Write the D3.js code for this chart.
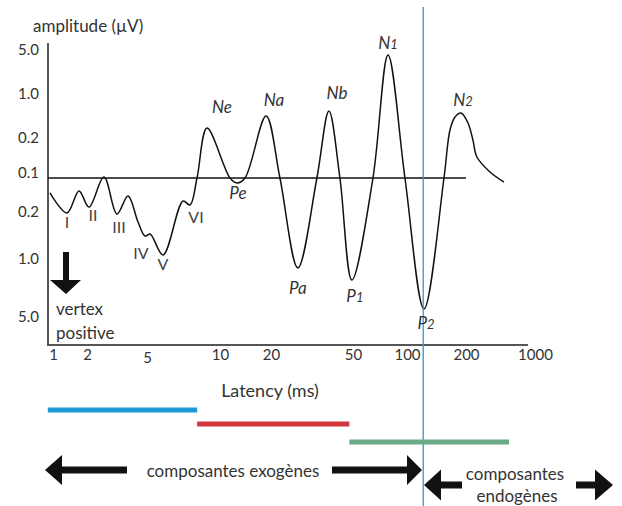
<!DOCTYPE html>
<html><head><meta charset="utf-8">
<script src="https://cdn.jsdelivr.net/npm/d3@7"></script>
<style>body{margin:0;background:#fff}svg{display:block;font-family:Lato,"Open Sans",sans-serif}</style>
</head><body><svg id="c" width="622" height="506"></svg>
<script>
// ---- data ----
const latency = [0.94,1.33,1.70,2.06,2.59,3.16,3.74,4.36,4.85,5.15,5.82,7.04,7.52,8.04,8.84,11.46,12.6,14.05,18.7,22.1,27.0,33.4,38.2,43.2,49.4,64.6,78.4,97.4,122.1,154.4,165.7,175.8,188.6,209.6,235,258,350,485];
const amplitude = [-0.088,-0.217,-0.076,-0.171,0.005,-0.234,-0.106,-0.370,-0.609,-0.574,-0.932,-0.135,-0.159,0,0.382,0,-0.029,0,0.6,0,-1.62,0,0.691,0,-2.45,0,4.55,0,-4.45,0,0.345,0.582,0.655,0.473,0.19,0.105,0.03,-0.024];
const xTicks = [1,2,5,10,20,50,100,200,1000];
const xTickLabels = ["1","2","5","10","20","50","100","200","1000"];
const yTicks = [5,1,0.2,0,-0.2,-1,-5];
const yTickLabels = ["5.0","1.0","0.2","0.1","0.2","1.0","5.0"];
const peakNames = ["I","II","III","IV","V","VI","Ne","Pe","Na","Pa","Nb","P1","N1","P2","N2"];
const peakLatency = [1.33,2.06,3.16,4.85,5.82,7.52,8.84,12.6,18.7,27.0,38.2,49.4,78.4,122.1,188.6];
const peakAmplitude = [-0.217,-0.171,-0.234,-0.609,-0.932,-0.159,0.382,-0.029,0.6,-1.62,0.691,-2.45,4.55,-4.45,0.655];
const bandNames = ["blue","red","green"];
const bandStart = [0.9,8.05,48];
const bandEnd = [8.05,48,545];
const boundaryLatency = 121;
const baselineEnd = 200;

// ---- scales ----
const svg = d3.select("#c");
const x = d3.scaleLog().domain(xTicks).range([53,87,147,220,271,353,407,466,535]);
const y = d3.scaleLinear().domain([-5,-1,-0.2,0,0.2,1,5]).range([317,259,212,178,138,94,50]);
const txt = "#333";

// axis lines
svg.append("line").attr("x1",48).attr("x2",48).attr("y1",43).attr("y2",345).attr("stroke","#555").attr("stroke-width",2);
svg.append("line").attr("x1",47).attr("x2",528).attr("y1",345).attr("y2",345).attr("stroke","#555").attr("stroke-width",2);

// y tick labels
const ya = svg.append("g").attr("transform","translate(39,0)")
  .call(d3.axisLeft(y).tickValues(yTicks).tickSize(0).tickPadding(0).tickFormat((d,i)=>yTickLabels[i]));
ya.select(".domain").remove();
ya.selectAll("text").attr("font-size",15).attr("fill",txt).attr("font-family","Lato, sans-serif")
  .attr("dy",(d)=> d===0 ? "-0.05em" : "0.32em");

// x tick labels
const xa = svg.append("g").attr("transform","translate(0,349)")
  .call(d3.axisBottom(x).tickValues(xTicks).tickSize(0).tickPadding(0).tickFormat((d,i)=>xTickLabels[i]));
xa.select(".domain").remove();
xa.selectAll("text").attr("font-size",15).attr("fill",txt).attr("font-family","Lato, sans-serif")
  .attr("dy",(d)=> d===5 ? "0.95em" : "0.72em");

// baseline
svg.append("line").attr("x1",48).attr("x2",x(baselineEnd)).attr("y1",y(0)).attr("y2",y(0)).attr("stroke","#111").attr("stroke-width",1.4);

// curve
const pts = latency.map((d,i)=>[d,amplitude[i]]);
svg.append("path").datum(pts)
  .attr("d", d3.line().x(d=>x(d[0])).y(d=>y(d[1])).curve(d3.curveCatmullRom.alpha(0.5)))
  .attr("fill","none").attr("stroke","#111").attr("stroke-width",1.5);

// boundary line
svg.append("line").attr("x1",x(boundaryLatency)).attr("x2",x(boundaryLatency)).attr("y1",7).attr("y2",506)
  .attr("stroke","#2a9ad6").attr("stroke-width",1.3);

// peak labels
const off = {I:[0,9],II:[4,8],III:[2,13],IV:[-4,17],V:[0,9],VI:[6,12],Ne:[15,-21],Pe:[1,10],Na:[8,-16],Pa:[0,20],Nb:[8,-18],P1:[3,16],N1:[0,-12],P2:[2,14],N2:[2,-13]};
peakNames.forEach((n,i)=>{
  const roman = /^[IV]+$/.test(n);
  const t = svg.append("text")
    .attr("x", x(peakLatency[i]) + off[n][0])
    .attr("y", y(peakAmplitude[i]) + off[n][1] + 6)
    .attr("text-anchor","middle")
    .attr("font-size", roman ? 16 : 17).attr("fill", roman ? "#444" : txt)
    .attr("font-style", roman ? "normal" : "italic");
  const m = n.match(/^([A-Z])(\d)$/);
  if (m) { t.append("tspan").text(m[1]); t.append("tspan").attr("font-size",13).text(m[2]); }
  else t.text(n);
});

// titles
svg.append("text").attr("x",33).attr("y",25).attr("dominant-baseline","central").attr("font-size",17).attr("fill",txt).text("amplitude (µV)");
svg.append("text").attr("x",270).attr("y",390).attr("text-anchor","middle").attr("dominant-baseline","central").attr("font-size",18).attr("fill",txt).text("Latency (ms)");
svg.append("text").attr("x",56).attr("y",308).attr("dominant-baseline","central").attr("font-size",17).attr("fill",txt).text("vertex");
svg.append("text").attr("x",56).attr("y",332).attr("dominant-baseline","central").attr("font-size",17).attr("fill",txt).text("positive");

// down arrow
svg.append("path").attr("d","M63,252 H69 V280 H81 L66,294 L50,280 H63 Z").attr("fill","#111");

// bands
const bandColor = {blue:"#1e9bd7",red:"#d3363a",green:"#6aaa86"};
const bandY = [410,424,442];
bandNames.forEach((b,i)=>{
  svg.append("line").attr("x1",x(bandStart[i])).attr("x2",x(bandEnd[i])).attr("y1",bandY[i]).attr("y2",bandY[i])
    .attr("stroke",bandColor[b]).attr("stroke-width",5);
});

// bottom arrows
function arrow(tail, tip, yy, hl, hh){
  const s = Math.sign(tip - tail), base = tip - s*hl;
  return `M${tail},${yy-3.5} L${base},${yy-3.5} L${base},${yy-hh} L${tip},${yy} L${base},${yy+hh} L${base},${yy+3.5} L${tail},${yy+3.5} Z`;
}
svg.append("path").attr("d",arrow(127,45,470,17,15)).attr("fill","#111");
svg.append("path").attr("d",arrow(332,422,470,15,15)).attr("fill","#111");
svg.append("path").attr("d",arrow(462,424,485,17,15.5)).attr("fill","#111");
svg.append("path").attr("d",arrow(576,613,485,18,15.5)).attr("fill","#111");
svg.append("text").attr("x",233).attr("y",470).attr("text-anchor","middle").attr("dominant-baseline","central").attr("font-size",17).attr("fill",txt).text("composantes exogènes");
svg.append("text").attr("x",515).attr("y",473).attr("text-anchor","middle").attr("dominant-baseline","central").attr("font-size",17).attr("fill",txt).text("composantes");
svg.append("text").attr("x",517).attr("y",495).attr("text-anchor","middle").attr("dominant-baseline","central").attr("font-size",17).attr("fill",txt).text("endogènes");
</script></body></html>
